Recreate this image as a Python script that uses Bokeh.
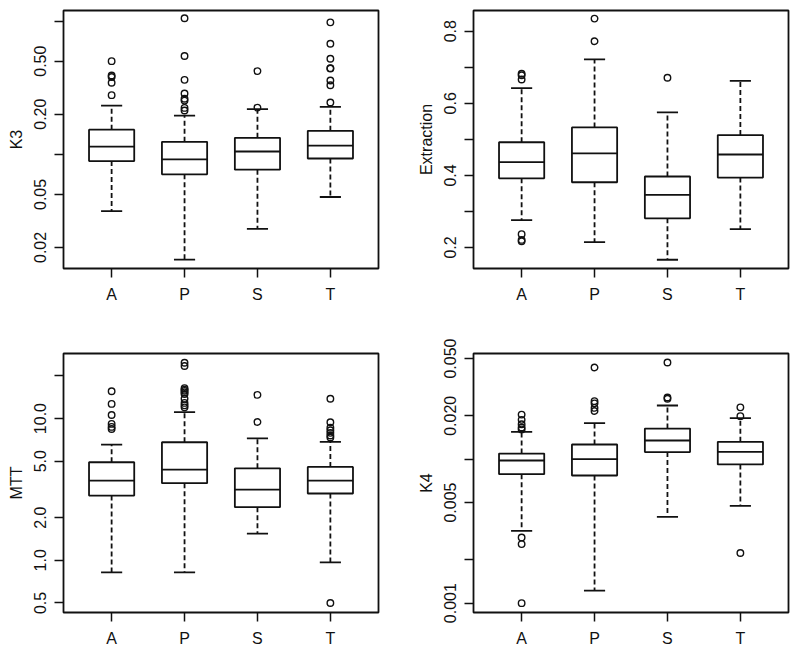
from bokeh.plotting import figure
from bokeh.layouts import column, row
from bokeh.models import FixedTicker, CustomJSTickFormatter, Range1d, ColumnDataSource
from bokeh.embed import file_html
from bokeh.resources import INLINE

categories = ["A", "P", "S", "T"]

# ---- K3 ----
k3_lower = [0.0375, 0.0162, 0.0276, 0.0478]
k3_q1 = [0.089, 0.0707, 0.0767, 0.093]
k3_med = [0.114, 0.0917, 0.105, 0.116]
k3_q3 = [0.153, 0.124, 0.133, 0.150]
k3_upper = [0.232, 0.195, 0.218, 0.227]
k3_out_group = ["A"] * 5 + ["P"] * 8 + ["S"] * 2 + ["T"] * 8
k3_out_value = [0.50, 0.39, 0.38, 0.344, 0.278,
                1.05, 0.546, 0.362, 0.286, 0.261, 0.253, 0.223, 0.213,
                0.421, 0.224,
                0.978, 0.676, 0.521, 0.443, 0.44, 0.358, 0.330, 0.245]
k3_ticks = [0.02, 0.05, 0.1, 0.2, 0.5, 1.0]
k3_tick_labels = ["0.02", "0.05", "", "0.20", "0.50", ""]
k3_range = (0.0139, 1.20)

# ---- Extraction ----
ex_lower = [0.276, 0.215, 0.166, 0.251]
ex_q1 = [0.392, 0.381, 0.281, 0.394]
ex_med = [0.437, 0.461, 0.346, 0.458]
ex_q3 = [0.492, 0.533, 0.397, 0.512]
ex_upper = [0.642, 0.722, 0.575, 0.662]
ex_out_group = ["A"] * 6 + ["P"] * 2 + ["S"]
ex_out_value = [0.682, 0.678, 0.666, 0.237, 0.221, 0.217,
                0.835, 0.772,
                0.671]
ex_ticks = [0.2, 0.3, 0.4, 0.5, 0.6, 0.7, 0.8]
ex_tick_labels = ["0.2", "", "0.4", "", "0.6", "", "0.8"]
ex_range = (0.1417, 0.8575)

# ---- MTT ----
mtt_lower = [0.822, 0.822, 1.54, 0.968]
mtt_q1 = [2.86, 3.50, 2.37, 2.96]
mtt_med = [3.65, 4.36, 3.15, 3.65]
mtt_q3 = [4.92, 6.81, 4.46, 4.56]
mtt_upper = [6.55, 11.1, 7.26, 6.84]
mtt_out_group = ["A"] * 6 + ["P"] * 11 + ["S"] * 2 + ["T"] * 8
mtt_out_value = [15.6, 12.7, 10.6, 9.17, 8.74, 8.45,
                 24.8, 23.5, 16.4, 16.0, 15.7, 15.3, 14.9, 13.8, 12.9, 12.4, 12.0,
                 14.7, 9.47,
                 13.8, 9.42, 8.63, 8.27, 7.93, 7.59, 7.35, 0.50]
mtt_ticks = [0.5, 1.0, 2.0, 5.0, 10.0, 20.0]
mtt_tick_labels = ["0.5", "1.0", "2.0", "5.0", "10.0", ""]
mtt_range = (0.428, 28.8)

# ---- K4 ----
k4_lower = [0.00318, 0.00122, 0.00398, 0.00474]
k4_q1 = [0.00787, 0.0077, 0.0112, 0.00919]
k4_med = [0.00979, 0.0100, 0.01348, 0.01124]
k4_q3 = [0.01094, 0.01265, 0.0163, 0.0132]
k4_upper = [0.01549, 0.0178, 0.0236, 0.0193]
k4_out_group = ["A"] * 8 + ["P"] * 5 + ["S"] * 3 + ["T"] * 3
k4_out_value = [0.0204, 0.01875, 0.0175, 0.0166, 0.0161, 0.00286, 0.00257, 0.001,
                0.0433, 0.0253, 0.0244, 0.0227, 0.0216,
                0.0469, 0.0268, 0.0263,
                0.0229, 0.0199, 0.00223]
k4_ticks = [0.001, 0.002, 0.005, 0.01, 0.02, 0.05]
k4_tick_labels = ["0.001", "", "0.005", "", "0.020", "0.050"]
k4_range = (0.000861, 0.0542)

FONT = "Liberation Sans"
INK = "#111111"
BOX_HALF = 0.31
STAPLE_HALF = 0.145
LW = 1.8


def make_panel(title, lower, q1, med, q3, upper, og, ov, ticks, tick_labels, yr,
               log, width, height, borders):
    bl, br, bt, bb = borders
    p = figure(width=width, height=height,
               x_range=Range1d(0.34, 4.66), y_range=Range1d(*yr),
               y_axis_type="log" if log else "linear",
               output_backend="svg", toolbar_location=None,
               min_border_left=bl, min_border_right=br,
               min_border_top=bt, min_border_bottom=bb)
    xs = list(range(1, len(categories) + 1))
    pos = {c: i + 1 for i, c in enumerate(categories)}

    src = ColumnDataSource(dict(
        x=xs, lo=lower, q1=q1, med=med, q3=q3, up=upper,
        bl=[x - BOX_HALF for x in xs], br=[x + BOX_HALF for x in xs],
        sl=[x - STAPLE_HALF for x in xs], sr=[x + STAPLE_HALF for x in xs]))

    # whiskers (dashed)
    p.segment(x0="x", y0="q3", x1="x", y1="up", source=src,
              line_color=INK, line_width=LW, line_dash="5 3")
    p.segment(x0="x", y0="q1", x1="x", y1="lo", source=src,
              line_color=INK, line_width=LW, line_dash="5 3")
    # staples
    p.segment(x0="sl", y0="up", x1="sr", y1="up", source=src,
              line_color=INK, line_width=LW)
    p.segment(x0="sl", y0="lo", x1="sr", y1="lo", source=src,
              line_color=INK, line_width=LW)
    # boxes
    p.quad(left="bl", right="br", bottom="q1", top="q3", source=src,
           fill_color="white", line_color=INK, line_width=LW)
    # medians
    p.segment(x0="bl", y0="med", x1="br", y1="med", source=src,
              line_color=INK, line_width=LW)
    # outliers
    osrc = ColumnDataSource(dict(x=[pos[g] for g in og], y=ov))
    p.scatter(x="x", y="y", source=osrc, marker="circle", size=6.5,
              fill_color=None, line_color=INK, line_width=1.4)

    p.xgrid.grid_line_color = None
    p.ygrid.grid_line_color = None
    p.outline_line_color = INK
    p.outline_line_width = 1.8
    p.background_fill_color = "white"
    p.border_fill_color = "white"

    p.xaxis.ticker = FixedTicker(ticks=xs)
    p.xaxis.major_label_overrides = {i + 1: c for i, c in enumerate(categories)}
    p.yaxis.ticker = FixedTicker(ticks=ticks)
    p.yaxis.formatter = CustomJSTickFormatter(
        args=dict(tv=ticks, tl=tick_labels),
        code="""
        for (let i = 0; i < tv.length; i++) {
            if (Math.abs(tick - tv[i]) <= 1e-6 * Math.abs(tv[i])) return tl[i];
        }
        return "";
        """)
    p.yaxis.axis_label = title
    p.yaxis.major_label_orientation = "parallel"

    for ax in (p.xaxis[0], p.yaxis[0]):
        ax.axis_line_color = None
        ax.major_tick_out = 9
        ax.major_tick_in = 0
        ax.major_tick_line_color = INK
        ax.major_tick_line_width = 1.5
        ax.minor_tick_line_color = None
        ax.major_label_text_font = FONT
        ax.major_label_text_font_size = "16px"
        ax.major_label_text_color = INK
        ax.axis_label_text_font = FONT
        ax.axis_label_text_font_size = "16px"
        ax.axis_label_text_font_style = "normal"
        ax.axis_label_text_color = INK
    p.xaxis.major_label_standoff = 8
    p.yaxis.major_label_standoff = 8
    p.yaxis.axis_label_standoff = 7
    return p


p1 = make_panel("K3", k3_lower, k3_q1, k3_med, k3_q3, k3_upper, k3_out_group,
                k3_out_value, k3_ticks, k3_tick_labels, k3_range, True,
                400, 326, (63, 22, 10, 58))
p2 = make_panel("Extraction", ex_lower, ex_q1, ex_med, ex_q3, ex_upper,
                ex_out_group, ex_out_value, ex_ticks, ex_tick_labels, ex_range,
                False, 400, 326, (73, 12, 10, 58))
p3 = make_panel("MTT", mtt_lower, mtt_q1, mtt_med, mtt_q3, mtt_upper,
                mtt_out_group, mtt_out_value, mtt_ticks, mtt_tick_labels,
                mtt_range, True, 400, 327, (63, 22, 27, 41))
p4 = make_panel("K4", k4_lower, k4_q1, k4_med, k4_q3, k4_upper, k4_out_group,
                k4_out_value, k4_ticks, k4_tick_labels, k4_range, True,
                400, 327, (73, 12, 27, 41))

layout = column(row(p1, p2), row(p3, p4))
open("out.html", "w").write(file_html(layout, INLINE))
